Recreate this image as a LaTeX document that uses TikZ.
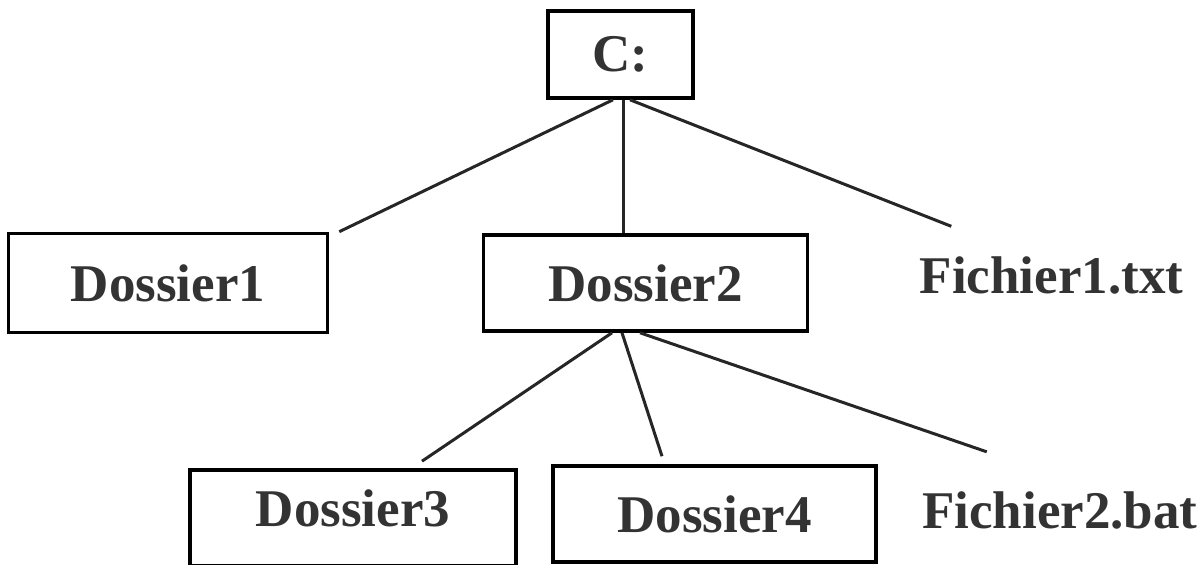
\documentclass[tikz,border=0pt]{standalone}
\usepackage{fontspec}
\setmainfont{Liberation Serif}
\usetikzlibrary{positioning}
\tikzset{
  drive/.style={
    rectangle, draw=black, line width=1.8pt, text=black!80,
    font=\bfseries\fontsize{26.5}{30}\selectfont,
    minimum width=72.5pt, minimum height=43.5pt
  },
  folder/.style={
    rectangle, draw=black, line width=1.8pt, text=black!80,
    font=\bfseries\fontsize{26.5}{30}\selectfont,
    minimum width=162pt, minimum height=48pt
  },
  file/.style={
    inner sep=0pt, text=black!80,
    font=\bfseries\fontsize{26.5}{30}\selectfont
  },
  link/.style={draw=black!85, line width=1.5pt}
}

\begin{document}
\begin{tikzpicture}
\useasboundingbox (-310.25pt,27.25pt) rectangle (291.75pt,-255.25pt);

% Root drive
\node[drive] (root) at (0,0) {C:};

% First level
\node[folder, below=66.7pt of root, xshift=12.5pt] (d2) {Dossier2};
\node[folder, minimum width=159.5pt, minimum height=49.5pt, left=76.2pt of d2] (d1) {Dossier1};
\node[file, right=55pt of d2, yshift=3.75pt] (f1) {Fichier1.txt};

% Second level
\node[folder, minimum width=161.5pt, below=65.7pt of d2, xshift=34.5pt] (d4) {Dossier4};
\node[folder, minimum width=163pt, text depth=9.5pt, left=16.7pt of d4, yshift=-2pt] (d3) {Dossier3};
\node[file, right=22pt of d4, yshift=2pt] (f2) {Fichier2.bat};

% Links from the root
\draw[link] ([xshift=-3.75pt]root.south) -- ([xshift=5pt]d1.north east);
\draw[link] ([xshift=1.25pt]root.south) -- ([xshift=1.25pt]root.south |- d2.north);
\draw[link] ([xshift=4.75pt]root.south) -- ([xshift=16pt,yshift=15pt]f1.north west);

% Links from Dossier2
\draw[link] ([xshift=-16.75pt]d2.south) -- ([xshift=34.5pt,yshift=3.5pt]d3.north);
\draw[link] ([xshift=-11.75pt]d2.south) -- ([xshift=-26.25pt,yshift=4pt]d4.north);
\draw[link] ([xshift=-2.75pt]d2.south) -- ([xshift=32.5pt,yshift=19.5pt]f2.north west);

\end{tikzpicture}
\end{document}
